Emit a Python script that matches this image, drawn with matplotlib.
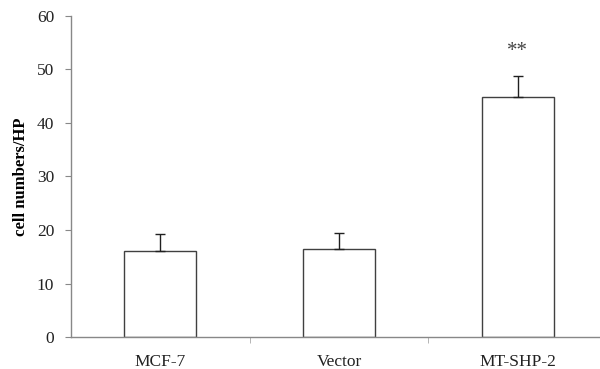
import numpy as np
import matplotlib
matplotlib.use("Agg")
import matplotlib.pyplot as plt

# data
groups = ["MCF-7", "Vector", "MT-SHP-2"]
cells = [16.1, 16.4, 44.9]
errors = [3.1, 3.0, 3.9]
marks = ["", "", "**"]

plt.rcParams['font.family'] = ['Liberation Serif', 'DejaVu Serif']

fig = plt.figure(figsize=(6, 3.69), dpi=100)
ax = fig.add_axes([0.118, 0.0867, 0.894, 0.870])

x = np.arange(len(groups))
ax.bar(x, cells, width=0.40, color='white', edgecolor='#404040', linewidth=1.0,
       yerr=[np.zeros(len(errors)), errors], capsize=3.5,
       error_kw=dict(ecolor='#202020', elinewidth=1.0, capthick=1.0))

for xi, v, e, m in zip(x, cells, errors, marks):
    if m:
        ax.text(xi, v + e + 2.8, m, ha='center', va='bottom', fontsize=15, color='#444444')

ax.set_xlim(-0.5, len(groups) - 0.5)
ax.set_ylim(0, 60)
ax.set_yticks(np.arange(0, 61, 10))
ax.set_xticks(x)
ax.set_xticklabels(groups)
ax.set_xticks(np.arange(0.5, len(groups) - 0.5, 1), minor=True)

ax.set_ylabel("cell numbers/HP", fontweight='bold', fontsize=12, labelpad=5.5)

for s in ['top', 'right']:
    ax.spines[s].set_visible(False)
for s in ['left', 'bottom']:
    ax.spines[s].set_color('#888888')
    ax.spines[s].set_linewidth(1.0)

ax.tick_params(axis='y', direction='out', length=4, color='#888888', pad=8,
               labelsize=12.5, labelcolor='#222222')
ax.tick_params(axis='x', which='major', length=0, pad=12, labelsize=12.5, labelcolor='#222222')
ax.tick_params(axis='x', which='minor', direction='out', length=4, color='#aaaaaa')

fig.savefig("out.png", dpi=100)
